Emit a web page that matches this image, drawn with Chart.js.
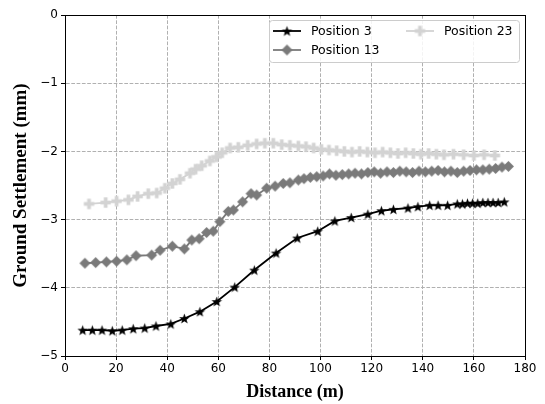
<!DOCTYPE html>
<html><head><meta charset="utf-8">
<script src="https://cdn.jsdelivr.net/npm/chart.js@4"></script>
<style>html,body{margin:0;padding:0;background:#fff}#wrap{width:545px;height:404px}</style>
</head><body><div id="wrap"><canvas id="c" width="545" height="404"></canvas></div>
<script>
const xTicks = [0, 20, 40, 60, 80, 100, 120, 140, 160, 180];
const yTicks = [0, -1, -2, -3, -4, -5];
const seriesNames = ['Position 3', 'Position 13', 'Position 23'];

const p3X = [6.9, 10.7, 14.5, 18.5, 22.4, 26.7, 31.2, 35.6, 41.4, 46.7, 52.8, 59.4, 66.4, 74.1, 82.6, 90.9, 98.9, 105.6, 112.0, 118.5, 123.8, 128.5, 134.2, 138.1, 142.7, 146.0, 149.7, 153.5, 155.5, 157.5, 159.5, 161.5, 163.5, 165.5, 167.5, 169.5, 171.9];
const p3Y = [-4.62, -4.62, -4.62, -4.63, -4.62, -4.60, -4.59, -4.56, -4.53, -4.45, -4.35, -4.20, -3.99, -3.74, -3.49, -3.27, -3.17, -3.02, -2.97, -2.92, -2.87, -2.85, -2.83, -2.81, -2.79, -2.79, -2.79, -2.77, -2.77, -2.76, -2.76, -2.76, -2.75, -2.75, -2.75, -2.75, -2.74];

const p13X = [7.8, 12.0, 16.2, 20.2, 24.2, 27.8, 33.9, 37.2, 42.0, 46.7, 49.6, 52.5, 55.4, 58.0, 60.6, 63.9, 65.9, 69.5, 72.8, 75.0, 78.9, 82.2, 85.4, 88.0, 91.3, 93.5, 96.0, 98.5, 101.0, 103.5, 106.0, 108.5, 111.0, 113.5, 116.0, 118.5, 121.0, 123.5, 126.0, 128.5, 131.0, 133.5, 136.0, 138.5, 141.0, 143.5, 146.0, 148.5, 151.0, 153.5, 156.0, 158.5, 161.0, 163.5, 166.0, 168.5, 171.0, 173.5];
const p13Y = [-3.64, -3.63, -3.62, -3.61, -3.59, -3.53, -3.52, -3.45, -3.39, -3.43, -3.30, -3.28, -3.19, -3.17, -3.03, -2.88, -2.86, -2.74, -2.62, -2.64, -2.54, -2.51, -2.47, -2.46, -2.42, -2.40, -2.38, -2.37, -2.36, -2.33, -2.35, -2.34, -2.33, -2.32, -2.33, -2.31, -2.30, -2.32, -2.30, -2.31, -2.29, -2.30, -2.31, -2.29, -2.30, -2.29, -2.28, -2.30, -2.29, -2.31, -2.29, -2.28, -2.27, -2.27, -2.26, -2.25, -2.23, -2.22];

const p23X = [9.4, 15.9, 20.2, 24.8, 28.4, 32.6, 35.9, 39.1, 42.0, 45.0, 48.9, 51.1, 53.5, 56.7, 59.3, 61.5, 64.6, 67.8, 71.5, 75.0, 78.2, 81.5, 84.8, 88.0, 91.3, 94.3, 97.3, 100.3, 103.3, 106.3, 109.3, 112.3, 115.3, 118.3, 121.3, 124.3, 127.3, 130.3, 133.3, 136.3, 139.3, 142.3, 145.3, 148.3, 152.0, 156.0, 160.0, 164.0, 168.2];
const p23Y = [-2.77, -2.75, -2.73, -2.71, -2.66, -2.62, -2.61, -2.54, -2.47, -2.41, -2.32, -2.26, -2.21, -2.14, -2.08, -2.02, -1.95, -1.94, -1.91, -1.89, -1.88, -1.88, -1.90, -1.91, -1.92, -1.93, -1.95, -1.97, -1.98, -1.99, -2.00, -2.01, -2.00, -2.01, -2.02, -2.01, -2.02, -2.03, -2.02, -2.03, -2.04, -2.03, -2.04, -2.05, -2.04, -2.05, -2.06, -2.05, -2.06];

const COL3 = '#000000', COL13 = '#7a7a7a', COL23 = '#d3d3d3';

function mk(size) { const c = document.createElement('canvas'); c.width = size; c.height = size; return c; }
function starMarker(color, r) {
  const s = Math.ceil(r * 2) + 2, c = mk(s), g = c.getContext('2d');
  g.translate(s / 2, s / 2 + 0.5); g.beginPath();
  for (let i = 0; i < 10; i++) {
    const rr = i % 2 ? r * 0.42 : r, a = -Math.PI / 2 + i * Math.PI / 5;
    g.lineTo(rr * Math.cos(a), rr * Math.sin(a));
  }
  g.closePath(); g.fillStyle = color; g.fill(); return c;
}
function diamondMarker(color, r) {
  const s = Math.ceil(r * 2) + 2, c = mk(s), g = c.getContext('2d');
  g.translate(s / 2, s / 2); g.beginPath();
  g.moveTo(0, -r); g.lineTo(r, 0); g.lineTo(0, r); g.lineTo(-r, 0); g.closePath();
  g.fillStyle = color; g.fill(); return c;
}
function plusMarker(color, r) {
  const s = Math.ceil(r * 2) + 2, c = mk(s), g = c.getContext('2d');
  g.translate(s / 2, s / 2); g.fillStyle = color;
  const t = r * 0.36;
  g.fillRect(-r, -t, 2 * r, 2 * t); g.fillRect(-t, -r, 2 * t, 2 * r); return c;
}
const mStar = starMarker(COL3, 5.5);
const mDia = diamondMarker(COL13, 5.5);
const mPlus = plusMarker(COL23, 5.2);

function pts(xs, ys) { return xs.map((x, i) => ({ x: x, y: ys[i] })); }

const frame = {
  id: 'frame',
  afterDatasetsDraw(chart) {
    const ctx = chart.ctx, a = chart.chartArea;
    ctx.save();
    // legend
    const bx = 269.5, by = 20.5, bw = 250, bh = 42;
    ctx.fillStyle = 'rgba(255,255,255,0.85)';
    ctx.strokeStyle = '#cccccc'; ctx.lineWidth = 1;
    ctx.beginPath(); ctx.roundRect(bx, by, bw, bh, 3); ctx.fill(); ctx.stroke();
    const items = [
      { n: seriesNames[0], c: COL3, m: mStar, x: 273, y: 31 },
      { n: seriesNames[1], c: COL13, m: mDia, x: 273, y: 50 },
      { n: seriesNames[2], c: COL23, m: mPlus, x: 406, y: 31 }
    ];
    ctx.font = '12.5px "DejaVu Sans"'; ctx.textBaseline = 'middle';
    items.forEach(it => {
      ctx.strokeStyle = it.c; ctx.lineWidth = 1.8;
      ctx.beginPath(); ctx.moveTo(it.x, it.y); ctx.lineTo(it.x + 28, it.y); ctx.stroke();
      ctx.drawImage(it.m, it.x + 14 - it.m.width / 2, it.y - it.m.height / 2);
      ctx.fillStyle = '#000'; ctx.fillText(it.n, it.x + 38, it.y + 0.5);
    });
    ctx.restore();
  },
  afterDraw(chart) {
    const ctx = chart.ctx, a = chart.chartArea;
    ctx.save(); ctx.strokeStyle = '#000'; ctx.lineWidth = 1;
    ctx.strokeRect(Math.round(a.left) + 0.5, Math.round(a.top) + 0.5, Math.round(a.right - a.left), Math.round(a.bottom - a.top));
    ctx.restore();
  }
};

const fmt = v => (v < 0 ? '\u2212' + Math.abs(v) : String(v));

new Chart(document.getElementById('c'), {
  type: 'line',
  data: {
    datasets: [
      { label: seriesNames[0], data: pts(p3X, p3Y), borderColor: COL3, backgroundColor: COL3, borderWidth: 1.8, pointStyle: mStar, pointRadius: 5, tension: 0 },
      { label: seriesNames[1], data: pts(p13X, p13Y), borderColor: COL13, backgroundColor: COL13, borderWidth: 1.8, pointStyle: mDia, pointRadius: 5, tension: 0 },
      { label: seriesNames[2], data: pts(p23X, p23Y), borderColor: COL23, backgroundColor: COL23, borderWidth: 1.8, pointStyle: mPlus, pointRadius: 5, tension: 0 }
    ]
  },
  options: {
    responsive: false, animation: false, devicePixelRatio: 1,
    layout: { padding: { top: 15, right: 20, left: 0, bottom: 0 } },
    plugins: { legend: { display: false }, tooltip: { enabled: false } },
    scales: {
      x: {
        type: 'linear', min: 0, max: 180,
        afterFit(s) { s.height = 48; },
        afterBuildTicks(s) { s.ticks = xTicks.map(v => ({ value: v })); },
        ticks: { autoSkip: false, maxRotation: 0, padding: 2, color: '#000', font: { family: 'DejaVu Sans', size: 12 }, callback: fmt },
        grid: { color: '#b0b0b0', lineWidth: 1, tickLength: 4, tickColor: '#000', tickBorderDash: [], tickWidth: 1 },
        border: { display: true, color: '#000', width: 1, dash: [3.7, 1.6] },
        title: { display: true, text: 'Distance (m)', color: '#000', font: { family: 'Liberation Serif', size: 18, weight: 'bold' }, padding: { top: 0, bottom: 1 } }
      },
      y: {
        type: 'linear', min: -5, max: 0,
        afterFit(s) { s.width = 65; },
        afterBuildTicks(s) { s.ticks = yTicks.map(v => ({ value: v })); },
        ticks: { padding: 3, color: '#000', font: { family: 'DejaVu Sans', size: 12 }, callback: fmt },
        grid: { color: '#b0b0b0', lineWidth: 1, tickLength: 4, tickColor: '#000', tickBorderDash: [], tickWidth: 1 },
        border: { display: true, color: '#000', width: 1, dash: [3.7, 1.6] },
        title: { display: true, text: 'Ground Settlement (mm)', color: '#000', font: { family: 'Liberation Serif', size: 19, weight: 'bold' }, padding: { top: 10, bottom: 0 } }
      }
    }
  },
  plugins: [frame]
});
</script>
</body></html>
